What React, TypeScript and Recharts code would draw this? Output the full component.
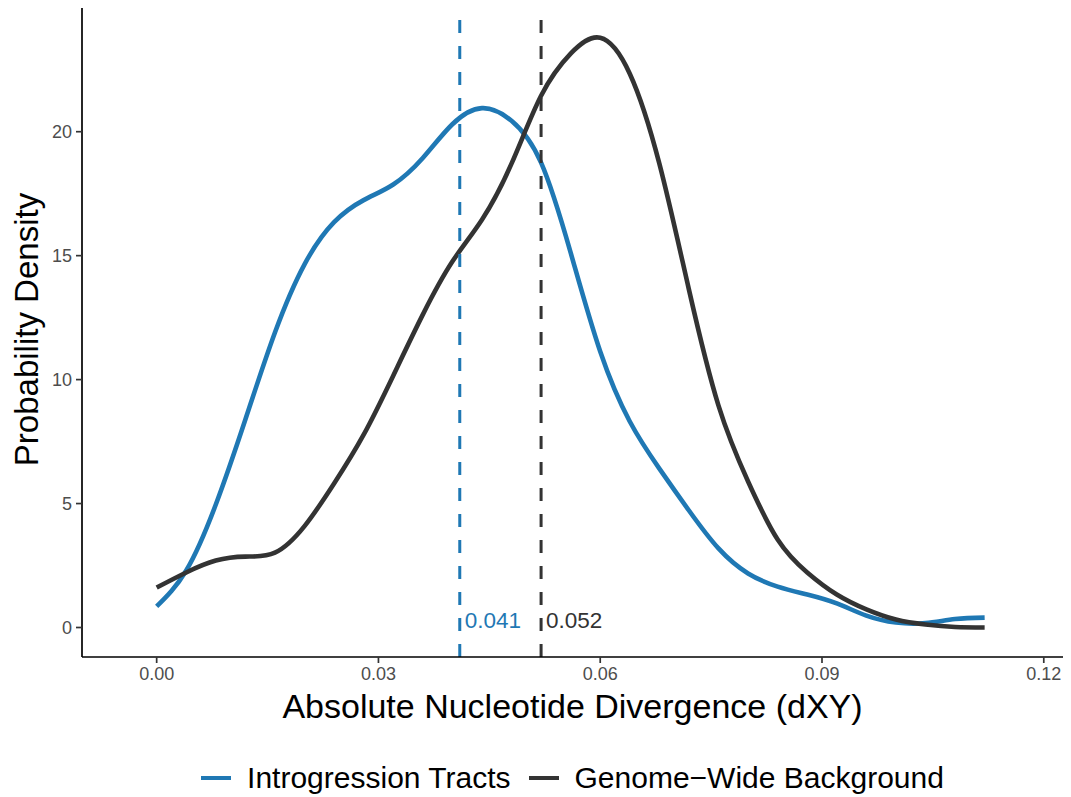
import { LineChart, Line, XAxis, YAxis, ReferenceLine, ReferenceDot } from "recharts";

const FONT = '"Liberation Sans", Arial, Helvetica, sans-serif';

// dXY grid the densities were read at
const dxy = [
  0, 0.004, 0.008, 0.012, 0.016, 0.02, 0.024, 0.028, 0.032, 0.036, 0.04, 0.044, 0.048, 0.052, 0.056,
  0.06, 0.064, 0.068, 0.072, 0.076, 0.08, 0.084, 0.088, 0.092, 0.096, 0.1, 0.104, 0.108, 0.112,
];

const introgressionDensity = [
  0.85, 2.3, 4.96, 8.39, 11.9, 14.65, 16.35, 17.24, 17.87, 18.94, 20.3, 20.95, 20.44, 18.75, 15.12,
  11.13, 8.31, 6.41, 4.72, 3.19, 2.18, 1.65, 1.33, 0.97, 0.48, 0.2, 0.18, 0.34, 0.4,
];

const backgroundDensity = [
  1.61, 2.22, 2.7, 2.86, 3.02, 4.09, 5.81, 7.78, 10.16, 12.62, 14.76, 16.45, 18.71, 21.45, 23.15,
  23.79, 22.34, 18.71, 13.63, 8.95, 5.89, 3.55, 2.22, 1.33, 0.73, 0.32, 0.12, 0.02, 0,
];

const xTicks = [0, 0.03, 0.06, 0.09, 0.12];
const yTicks = [0, 5, 10, 15, 20];

const meanIntrogression = 0.041;
const meanBackground = 0.052;
// height at which the mean values are printed
const meanLabelY = 0.3;

const series = [
  { key: "introgression", name: "Introgression Tracts", color: "#1F78B4", mean: meanIntrogression },
  { key: "background", name: "Genome\u2212Wide Background", color: "#333333", mean: meanBackground },
];

const rows = dxy.map((x, i) => ({
  x,
  introgression: introgressionDensity[i],
  background: backgroundDensity[i],
}));

const tickStyle = { fill: "#4D4D4D", fontSize: 18, fontFamily: FONT };

function XTitle(props: any) {
  const vb = props.viewBox ?? { x: 82, y: 657, width: 981, height: 61 };
  return (
    <text
      x={vb.x + vb.width / 2}
      y={vb.y + vb.height}
      textAnchor="middle"
      fontSize={34}
      fontFamily={FONT}
      fill="#000"
    >
      Absolute Nucleotide Divergence (dXY)
    </text>
  );
}

function YTitle(props: any) {
  const vb = props.viewBox ?? { x: 0, y: 8, width: 82, height: 649 };
  const cx = 38;
  const cy = vb.y + vb.height / 2 - 3;
  return (
    <text
      x={cx}
      y={cy}
      transform={`rotate(-90, ${cx}, ${cy})`}
      textAnchor="middle"
      fontSize={33}
      fontFamily={FONT}
      fill="#000"
    >
      Probability Density
    </text>
  );
}

export default function App() {
  return (
    <div
      style={{
        position: "absolute",
        left: 0,
        top: 0,
        width: 1071,
        height: 797,
        background: "#fff",
        fontFamily: FONT,
      }}
    >
      <LineChart width={1071} height={797} data={rows} margin={{ top: 8, right: 8, bottom: 79, left: 0 }}>
        <XAxis
          type="number"
          dataKey="x"
          domain={[-0.0101, 0.1226]}
          ticks={xTicks}
          interval={0}
          allowDataOverflow
          height={61}
          tickFormatter={(v: number) => v.toFixed(2)}
          axisLine={{ stroke: "#000", strokeWidth: 1.7 }}
          tickLine={{ stroke: "#333", strokeWidth: 1.7 }}
          tickSize={6}
          tickMargin={4}
          tick={tickStyle}
          label={XTitle}
        />
        <YAxis
          type="number"
          domain={[-1.19, 24.99]}
          ticks={yTicks}
          interval={0}
          allowDataOverflow
          width={82}
          axisLine={{ stroke: "#000", strokeWidth: 1.7 }}
          tickLine={{ stroke: "#333", strokeWidth: 1.7 }}
          tickSize={6}
          tickMargin={4}
          tick={tickStyle}
          label={YTitle}
        />
        {series.map((s) => (
          <Line
            key={s.key}
            type="natural"
            dataKey={s.key}
            name={s.name}
            stroke={s.color}
            strokeWidth={4.6}
            dot={false}
            activeDot={false}
            isAnimationActive={false}
          />
        ))}
        {series.map((s) => (
          <ReferenceLine
            key={`mean-${s.key}`}
            x={s.mean}
            stroke={s.color}
            strokeWidth={3}
            strokeDasharray="13 13"
          />
        ))}
        {series.map((s) => (
          <ReferenceDot
            key={`label-${s.key}`}
            x={s.mean}
            y={meanLabelY}
            r={0}
            fill="none"
            stroke="none"
            label={{
              value: s.mean.toFixed(3),
              position: "right",
              offset: 5,
              fill: s.color,
              fontSize: 22.5,
              fontFamily: FONT,
            }}
          />
        ))}
      </LineChart>

      <div
        style={{
          position: "absolute",
          left: 82,
          top: 760,
          width: 981,
          height: 36,
          display: "flex",
          justifyContent: "center",
          alignItems: "center",
          fontSize: 30,
          color: "#000",
        }}
      >
        {series.map((s, i) => (
          <div
            key={s.key}
            style={{ display: "flex", alignItems: "center", marginLeft: i === 0 ? 0 : 18 }}
          >
            <span
              style={{ display: "inline-block", width: 30, height: 4.5, background: s.color, marginRight: 16 }}
            />
            <span style={{ whiteSpace: "nowrap" }}>{s.name}</span>
          </div>
        ))}
      </div>
    </div>
  );
}
